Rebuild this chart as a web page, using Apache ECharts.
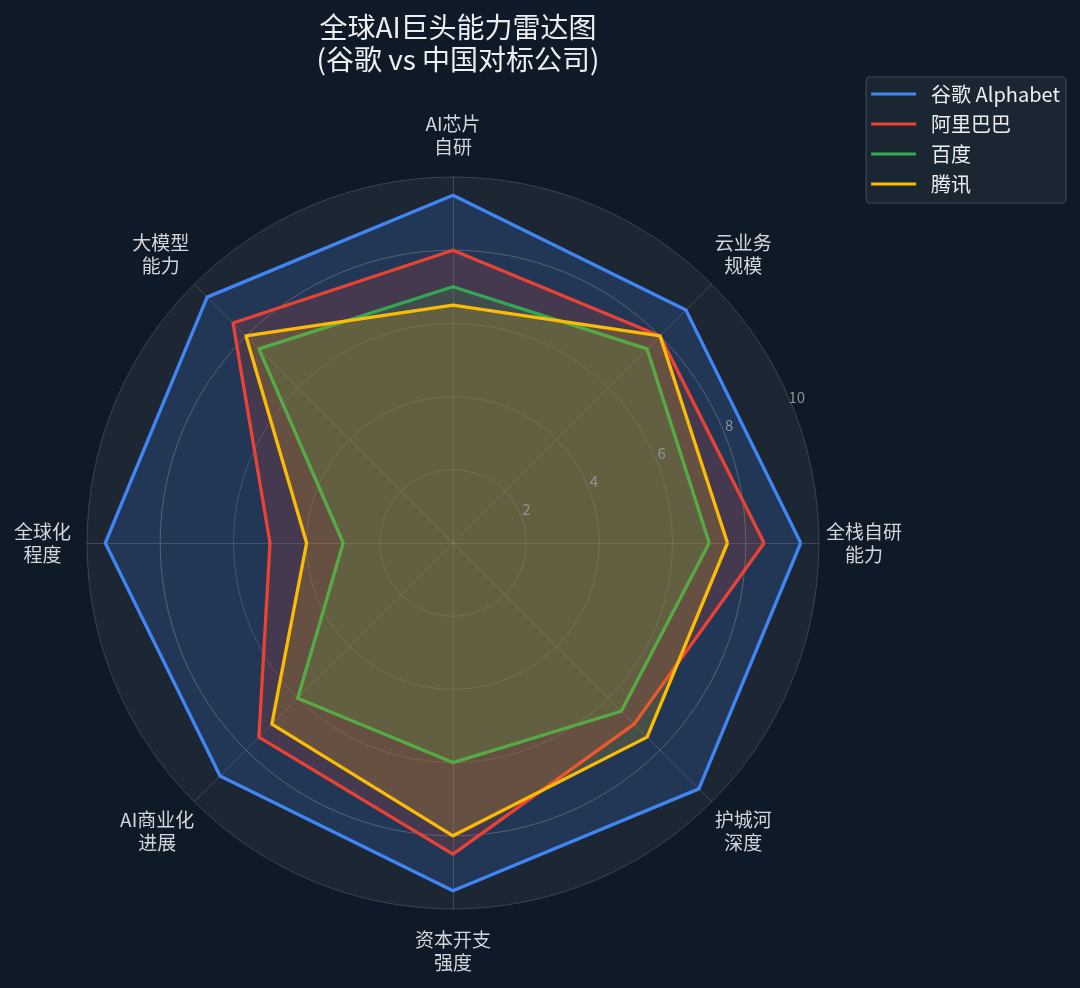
<!DOCTYPE html>
<html>
<head>
<meta charset="utf-8">
<title>全球AI巨头能力雷达图</title>
<script src="https://cdn.jsdelivr.net/npm/echarts@6/dist/echarts.min.js"></script>
<style>
html, body { margin: 0; padding: 0; background: #0e1a28; }
#main { width: 1080px; height: 988px; }
</style>
</head>
<body>
<div id="main"></div>
<script>
// 维度（从右侧开始，逆时针）
var dims = ['全栈自研\n能力', '云业务\n规模', 'AI芯片\n自研', '大模型\n能力', '全球化\n程度', 'AI商业化\n进展', '资本开支\n强度', '护城河\n深度'];
var names = ['谷歌 Alphabet', '阿里巴巴', '百度', '腾讯'];
var google = [9.5, 9.0, 9.5, 9.5, 9.5, 9.0, 9.5, 9.5];
var alibaba = [8.5, 8.0, 8.0, 8.5, 5.0, 7.5, 8.5, 7.0];
var baidu = [7.0, 7.5, 7.0, 7.5, 3.0, 6.0, 6.0, 6.5];
var tencent = [7.5, 8.0, 6.5, 8.0, 4.0, 7.0, 8.0, 7.5];
var colors = ['#4285F4', '#EA4335', '#34A853', '#FBBC05'];

var font = '"Noto Sans CJK SC", "DejaVu Sans", sans-serif';
var cx = 453, cy = 543, R = 366;

// 维度名摆放微调：左右留白、上下占位行高度
var padL = [7, 3, 0, 0, 0, 0, 0, 3];
var padR = [0, 0, 0, 5, 16, 0, 0, 0];
var spTop = [0, 0, 0, 0, 0, 58, 19, 58];
var spBot = [0, 59, 19, 59, 0, 0, 0, 0];

var rich = {};
for (var i = 0; i < dims.length; i++) {
    rich['a' + i] = { fontSize: 19, lineHeight: 23, color: '#d3d6da', fontFamily: font, align: 'center', padding: [0, padR[i], 0, padL[i]] };
    rich['t' + i] = { fontSize: 2, lineHeight: spTop[i] || 1 };
    rich['b' + i] = { fontSize: 2, lineHeight: spBot[i] || 1 };
}
function nameFmt(value) {
    var i = dims.indexOf(value);
    var lines = value.split('\n');
    var s = '{a' + i + '|' + lines[0] + '}\n{a' + i + '|' + lines[1] + '}';
    if (spTop[i]) s = '{t' + i + '| }\n' + s;
    if (spBot[i]) s = s + '\n{b' + i + '| }';
    return s;
}

var chart = echarts.init(document.getElementById('main'));

var seriesData = [google, alibaba, baidu, tencent];
var series = [];
for (var k = 0; k < 4; k++) {
    series.push({
        name: names[k],
        type: 'radar',
        symbol: 'none',
        z: 2 + k,
        lineStyle: { color: colors[k], width: 3.3 },
        itemStyle: { color: colors[k] },
        areaStyle: { color: colors[k], opacity: 0.18 },
        data: [{ value: seriesData[k], name: names[k] }]
    });
}

var option = {
    backgroundColor: '#0e1a28',
    textStyle: { fontFamily: font },
    title: {
        text: '全球AI巨头能力雷达图\n(谷歌 vs 中国对标公司)',
        left: cx,
        top: 6,
        textAlign: 'center',
        textStyle: { color: '#eceef0', fontSize: 28, lineHeight: 32, fontWeight: 'normal', fontFamily: font }
    },
    legend: {
        orient: 'vertical',
        right: 14,
        top: 77,
        data: names,
        icon: 'rect',
        itemWidth: 45,
        itemHeight: 3,
        itemGap: 10,
        padding: [7, 6, 9, 5],
        backgroundColor: '#1b2633',
        borderColor: '#3f4954',
        borderWidth: 1.2,
        borderRadius: 4,
        textStyle: { color: '#eceef0', fontSize: 20, lineHeight: 20, padding: [0, 0, 0, 10], fontFamily: font }
    },
    radar: {
        center: [cx, cy],
        radius: R,
        startAngle: 0,
        shape: 'circle',
        splitNumber: 5,
        indicator: dims.map(function (d) { return { name: d, min: 0, max: 10 }; }),
        axisNameGap: 0,
        axisName: {
            formatter: nameFmt,
            color: '#d3d6da',
            fontSize: 19,
            lineHeight: 23,
            rich: rich
        },
        axisLine: { lineStyle: { color: 'rgba(150,150,150,0.3)', width: 1 } },
        splitLine: { lineStyle: { color: ['rgba(150,150,150,0.3)', 'rgba(150,150,150,0.3)', 'rgba(150,150,150,0.3)', 'rgba(150,150,150,0.3)', 'rgba(150,140,120,0.5)'], width: 1 } },
        splitArea: { show: true, areaStyle: { color: ['#1c2733'] } },
        axisLabel: { show: false }
    },
    // 只用来画径向刻度文字
    polar: { center: [cx, cy], radius: R },
    angleAxis: { type: 'value', min: 0, max: 360, startAngle: 22.5, show: false },
    radiusAxis: {
        type: 'value',
        min: 0,
        max: 10,
        interval: 2,
        z: 20,
        axisLine: { show: false },
        axisTick: { show: false },
        splitLine: { show: false },
        axisLabel: {
            showMinLabel: false,
            color: '#8e939a',
            fontSize: 15,
            margin: 6,
            align: 'center',
            verticalAlign: 'middle',
            padding: [0, 0, 11, 16]
        }
    },
    series: series
};
chart.setOption(option);
</script>
</body>
</html>
